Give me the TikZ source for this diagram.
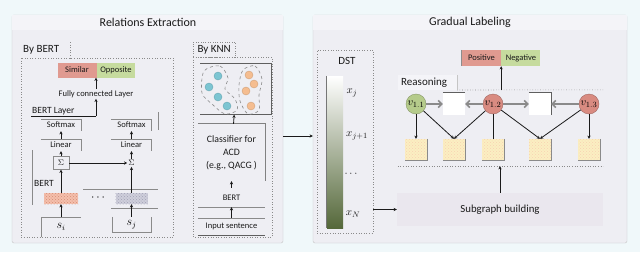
\documentclass[tikz,border=0pt]{standalone}
\usepackage{fontspec}
\setmainfont{Carlito}
\usetikzlibrary{arrows.meta,positioning,patterns}
\definecolor{bgcyan}{HTML}{F0F8FA}
\definecolor{panel}{HTML}{EEEEF3}
\definecolor{band}{HTML}{F4F4F8}
\definecolor{ink}{HTML}{1A1A1A}
\definecolor{wire}{HTML}{8A8A8A}
\definecolor{salmon}{HTML}{E09A90}
\definecolor{sage}{HTML}{C6DB9E}
\definecolor{redv}{HTML}{D98B81}
\definecolor{greenv}{HTML}{B5CB8B}
\definecolor{teal}{HTML}{7CC5D2}
\definecolor{peach}{HTML}{F5BD90}
\definecolor{tokorange}{HTML}{EE9C80}
\definecolor{tokgray}{HTML}{B4B4C8}
\definecolor{olive}{HTML}{55683A}
\definecolor{paleyel}{HTML}{FBEFC2}
\definecolor{subg}{HTML}{EAE7EE}
\tikzset{
  panelbox/.style={draw=wire!50,fill=panel,rounded corners=2pt,minimum width=271pt,minimum height=228pt,inner sep=0pt},
  heading/.style={font=\fontsize{12}{14}\selectfont,text=ink},
  tabtext/.style={font=\fontsize{11}{13}\selectfont,anchor=west,inner sep=1pt,text=ink},
  region/.style={draw=wire,dotted,line width=0.6pt},
  small/.style={font=\fontsize{8.5}{10}\selectfont,text=ink,inner sep=1pt},
  layerbox/.style={small,minimum width=40pt,minimum height=12pt,inner sep=0pt},
  choice/.style={fill=#1,minimum width=39pt,minimum height=15pt,inner sep=0pt,font=\fontsize{8.5}{10}\selectfont,text=ink},
  flow/.style={-{Stealth[length=3.2pt,width=3.2pt]},line width=0.8pt,draw=ink},
  link/.style={line width=0.7pt,draw=ink},
  grayflow/.style={-{Straight Barb[length=3.5pt,width=7pt]},line width=1.5pt,draw=wire},
  frame/.style={draw=wire,line width=0.6pt},
  darkframe/.style={draw=ink!70,line width=0.8pt},
  ptdot/.style={circle,fill=#1,draw=#1!85!black,minimum size=8pt,inner sep=0pt},
  blob/.style={draw=wire,dashed,line width=0.6pt},
  vnode/.style={circle,fill=#1,draw=#1!75!black,minimum size=20pt,inner sep=0pt,font=\fontsize{11}{13}\selectfont},
  feat/.style={minimum width=22pt,minimum height=21pt,inner sep=0pt,preaction={fill=paleyel},pattern=crosshatch dots,pattern color=peach!70},
  token/.style={minimum width=34pt,minimum height=11pt,inner sep=0pt,preaction={fill=#1!65},pattern=crosshatch dots,pattern color=#1!90!black}
}
\begin{document}
\begin{tikzpicture}[x=1pt,y=-1pt]
  \fill[bgcyan] (0,0) rectangle (640,252);
  \useasboundingbox (0,0) rectangle (640,252);

  % panels
  \node[panelbox] (relpanel) at (147.5,129) {};
  \node[panelbox,minimum width=314pt] (gradpanel) at (470,129) {};
  \fill[band] ([xshift=.5pt,yshift=-.5pt]relpanel.north west) rectangle ([xshift=-.5pt,yshift=-15pt]relpanel.north east);
  \fill[band] ([xshift=.5pt,yshift=-.5pt]gradpanel.north west) rectangle ([xshift=-.5pt,yshift=-15pt]gradpanel.north east);
  \node[heading] (reltitle) at (148,22.5) {Relations Extraction};
  \node[heading] (gradtitle) at (470,22.5) {Gradual Labeling};
  \draw[flow] ([yshift=-7pt]relpanel.east) -- ([yshift=-7pt]gradpanel.west);

  % by BERT
  \draw[region] (21,58) rectangle (173,237);
  \draw[region] (70,42) -- (70,58);
  \node[tabtext] (bybert) at (22,50) {By BERT};
  \node[choice=salmon] (similar) at (77,70) {Similar};
  \node[choice=sage,minimum width=38pt,right=0pt of similar] (opposite) {Opposite};
  \node[small] (fcl) at (96,94) {Fully connected Layer};
  \node[small,font=\fontsize{9.5}{11}\selectfont,anchor=south west] (bertlayer) at (31,116) {BERT Layer};
  \coordinate (bljoin) at (96,116);
  \node[layerbox] (smaxL) at (61,125) {Softmax};
  \node[layerbox] (smaxR) at (131.5,125) {Softmax};
  \node[layerbox] (linL) at (61,145) {Linear};
  \node[layerbox] (linR) at (131.5,145) {Linear};
  \node[small,draw=wire,minimum width=16pt,minimum height=13pt] (sumL) at (61,163) {$\Sigma$};
  \node[small] (sumR) at (131.5,163) {$\Sigma$};
  \node[small,font=\fontsize{9.5}{11}\selectfont] (bertlbl) at (44,183) {BERT};
  \node[token=tokorange] (tokI) at (61,198.5) {};
  \node[token=tokgray,minimum width=32pt] (tokJ) at (131.5,198.5) {};
  \node[font=\large] (tokdots) at (98,198) {$\cdots$};
  \node[minimum width=39pt,minimum height=20pt,inner sep=0pt,font=\large] (si) at (61,227) {$s_i$};
  \node[minimum width=39pt,minimum height=15pt,inner sep=0pt,font=\large] (sj) at (131.5,224.5) {$s_j$};
  \foreach \n in {smaxL,smaxR,linL,linR}
    \draw[frame] (\n.north west) -- (\n.north east) -- (\n.south east);
  \draw[frame] (si.south west) -- (si.north west) -- (si.north east);
  \draw[frame] (sj.north west) -- (sj.south west) -- (sj.south east) -- (sj.north east);
  \draw[frame] (32,150) -- (32,205);
  \draw[frame] (83,189) -- (158,189);
  \draw[frame] (111,208) -- (158,208);
  \draw[frame] (158,112) -- (158,130);
  \draw[flow] (si.north) -- (tokI.south);
  \draw[flow] (sj.north) -- (tokJ.south);
  \draw[flow] (tokI) -- (sumL);
  \draw[flow] (tokJ) -- (sumR);
  \draw[flow] (sumL) -- (sumR);
  \draw[flow] (sumL) -- (linL);
  \draw[flow] (sumR) -- (linR);
  \draw[flow] (linL) -- (smaxL);
  \draw[flow] (linR) -- (smaxR);
  \draw[link] (bertlayer.south west) -- (bljoin);
  \draw[flow] (bljoin) -- (fcl);
  \draw[flow] (fcl.north) -- (fcl.north |- similar.south);

  % by KNN
  \draw[region] (193,57) rectangle (272,237);
  \node[tabtext,draw=wire,dotted,minimum width=42pt,minimum height=15pt] (byknn) at (193,49.5) {By KNN};
  \node[minimum width=71pt,minimum height=51pt,inner sep=0pt] (clusters) at (236,89) {};
  \draw[darkframe] (clusters.north west) -- (clusters.north east) -- (clusters.south east) -- (clusters.south west);
  \draw[blob] plot[smooth cycle] coordinates {(204,71) (220,66) (228,78) (225,89) (235,99) (237,110) (225,114) (212,104) (202,93)};
  \draw[blob] plot[smooth cycle] coordinates {(243,70) (255,66) (262,79) (259,95) (259,110) (248,114) (240,101) (239,85)};
  \foreach \x/\y [count=\i] in {218/76,209/87,218/97,227/106}
    \node[ptdot=teal] (blue\i) at (\x,\y) {};
  \foreach \x/\y [count=\i] in {249/75,254/84,246/91,251/106}
    \node[ptdot=peach] (orange\i) at (\x,\y) {};
  \node[small,align=center,minimum width=67pt,minimum height=57pt,font=\fontsize{9.8}{13}\selectfont] (clf) at (231.5,152.5) {Classifier for\\ACD\\(e.g., QACG )};
  \draw[draw=ink!55,line width=1pt] (clf.north west) -- (clf.north east) -- (clf.south east);
  \node[small,minimum width=67pt,minimum height=19pt] (bertk) at (231.5,197.5) {BERT};
  \draw[frame] (bertk.south west) -- (bertk.south east);
  \node[small,minimum width=67pt,minimum height=17pt,font=\fontsize{8.5}{10}\selectfont] (sentence) at (231.5,226.5) {Input sentence};
  \draw[frame] (sentence.north west) -- (sentence.north east);
  \draw[darkframe,line width=1.2pt] (sentence.south west) -- (sentence.south east);
  \draw[flow] (sentence) -- (bertk);
  \draw[flow] (bertk) -- (clf);
  \draw[flow] (clf) -- (clusters);

  % DST
  \node[region,minimum width=56pt,minimum height=183pt,inner sep=0pt] (dst) at (345,141.5) {};
  \node[heading,font=\fontsize{11}{13}\selectfont] (dstlbl) at (347,61) {DST};
  \node[minimum width=16pt,minimum height=152pt,inner sep=0pt,top color=white,middle color=olive!45!white,bottom color=olive] (dstbar) at (335,152) {};
  \draw[ink!60,line width=0.8pt] (dstbar.north west) -- (dstbar.south west);
  \node[small,font=\fontsize{11}{12}\selectfont] (xj) at (352,93) {$x_j$};
  \node[small,font=\fontsize{11}{12}\selectfont] (xjnext) at (357,136) {$x_{j+1}$};
  \node[small,font=\fontsize{11}{12}\selectfont] (xdots) at (351,174) {$\cdots$};
  \node[small,font=\fontsize{11}{12}\selectfont] (xn) at (353,214) {$x_N$};

  % subgraph and reasoning
  \node[fill=subg,minimum width=206pt,minimum height=33pt,font=\fontsize{10.8}{12}\selectfont,text=ink] (subgraph) at (500,209.5) {Subgraph building};
  \draw[flow] (dst.east |- subgraph) -- (subgraph.west);
  \node[minimum width=205pt,minimum height=76pt,inner sep=0pt] (reason) at (500.5,128) {};
  \draw[region] (457,90) -- (reason.north east);
  \draw[region] (reason.south west) -- (reason.south east);
  \fill[band] (398,75) rectangle (457,90);
  \draw[draw=wire!50] (457,75) -- (457,90);
  \node[tabtext] (reasonlbl) at (400,83) {Reasoning};
  \draw[flow] (subgraph.north) -- (subgraph.north |- reason.south);

  \node[choice=salmon,minimum height=16pt] (positive) at (481.5,58) {Positive};
  \node[choice=sage,minimum height=16pt,right=0pt of positive] (negative) {Negative};
  \draw[ink!50,line width=0.8pt] (positive.north west) -- (positive.south west);
  \draw[flow] (reason.north -| positive.east) -- (positive.south east);

  \node[vnode=greenv] (v11) at (416,104) {$v_{1.1}$};
  \node[vnode=redv] (v12) at (493,104) {$v_{1.2}$};
  \node[vnode=redv] (v13) at (589,104) {$v_{1.3}$};
  \node[fill=white,minimum width=22pt,minimum height=22pt,inner sep=0pt] (w1) at (454,104) {};
  \node[fill=white,minimum width=22pt,minimum height=22pt,inner sep=0pt] (w2) at (540,104) {};
  \draw[ink!70,line width=0.8pt] (w1.north west) -- (w1.north east);
  \draw[ink!70,line width=0.8pt] (w2.north west) -- (w2.north east) -- (w2.south east);
  \draw[grayflow] (v11) -- (w1);
  \draw[grayflow] (v12) -- (w1);
  \draw[grayflow] (v12) -- (w2);
  \draw[grayflow] (v13) -- (w2);
  \foreach \x [count=\i] in {416,454,493,540,589}
    \node[feat] (f\i) at (\x,149.5) {};
  \foreach \i in {1,...,5}
    \draw[frame] (f\i.north east) -- (f\i.south east) -- (f\i.south west);
  \draw[flow] (v11) -- (f1);
  \draw[flow] (v11) -- (f2.north);
  \draw[flow] (v12) -- (f2.north);
  \draw[link] (v12) -- (f3);
  \draw[flow] (v12) -- (f4.north);
  \draw[flow] (v13) -- (f4.north);
  \draw[flow] (v13) -- (f5);
\end{tikzpicture}
\end{document}
